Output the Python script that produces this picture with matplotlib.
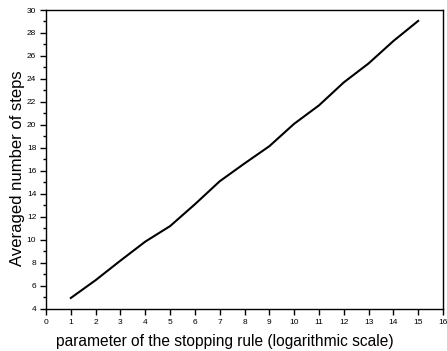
import matplotlib.pyplot as plt
from matplotlib.ticker import MultipleLocator

plt.rcParams['font.family'] = ['Liberation Sans', 'DejaVu Sans']

# averaged number of steps vs. stopping rule parameter (log scale)
param = [1, 2, 3, 4, 5, 6, 7, 8, 9, 10, 11, 12, 13, 14, 15]
avg_steps = [4.95, 6.5, 8.2, 9.85, 11.2, 13.1, 15.1, 16.65, 18.15, 20.1,
             21.7, 23.7, 25.35, 27.3, 29.05]

fig = plt.figure(figsize=(4.47, 3.51), dpi=100)
ax = fig.add_axes([0.103, 0.12, 0.888, 0.8515])

ax.plot(param, avg_steps, '-k', linewidth=1.5)

ax.set_xlim(0, 16)
ax.set_ylim(4, 30)
ax.xaxis.set_major_locator(MultipleLocator(1))
ax.yaxis.set_major_locator(MultipleLocator(2))
ax.yaxis.set_minor_locator(MultipleLocator(1))

ax.tick_params(which='both', direction='out', top=False, right=False,
               labelsize=6, width=1)
ax.tick_params(which='major', length=4, pad=3)
ax.tick_params(which='minor', length=2)
for s in ax.spines.values():
    s.set_linewidth(1)

ax.set_xlabel('parameter of the stopping rule (logarithmic scale)', fontsize=11.2)
ax.set_ylabel('Averaged number of steps', fontsize=12)
ax.xaxis.set_label_coords(0.4496, -0.085)
ax.yaxis.set_label_coords(-0.053, 0.47)

fig.savefig('out.png', dpi=100)
